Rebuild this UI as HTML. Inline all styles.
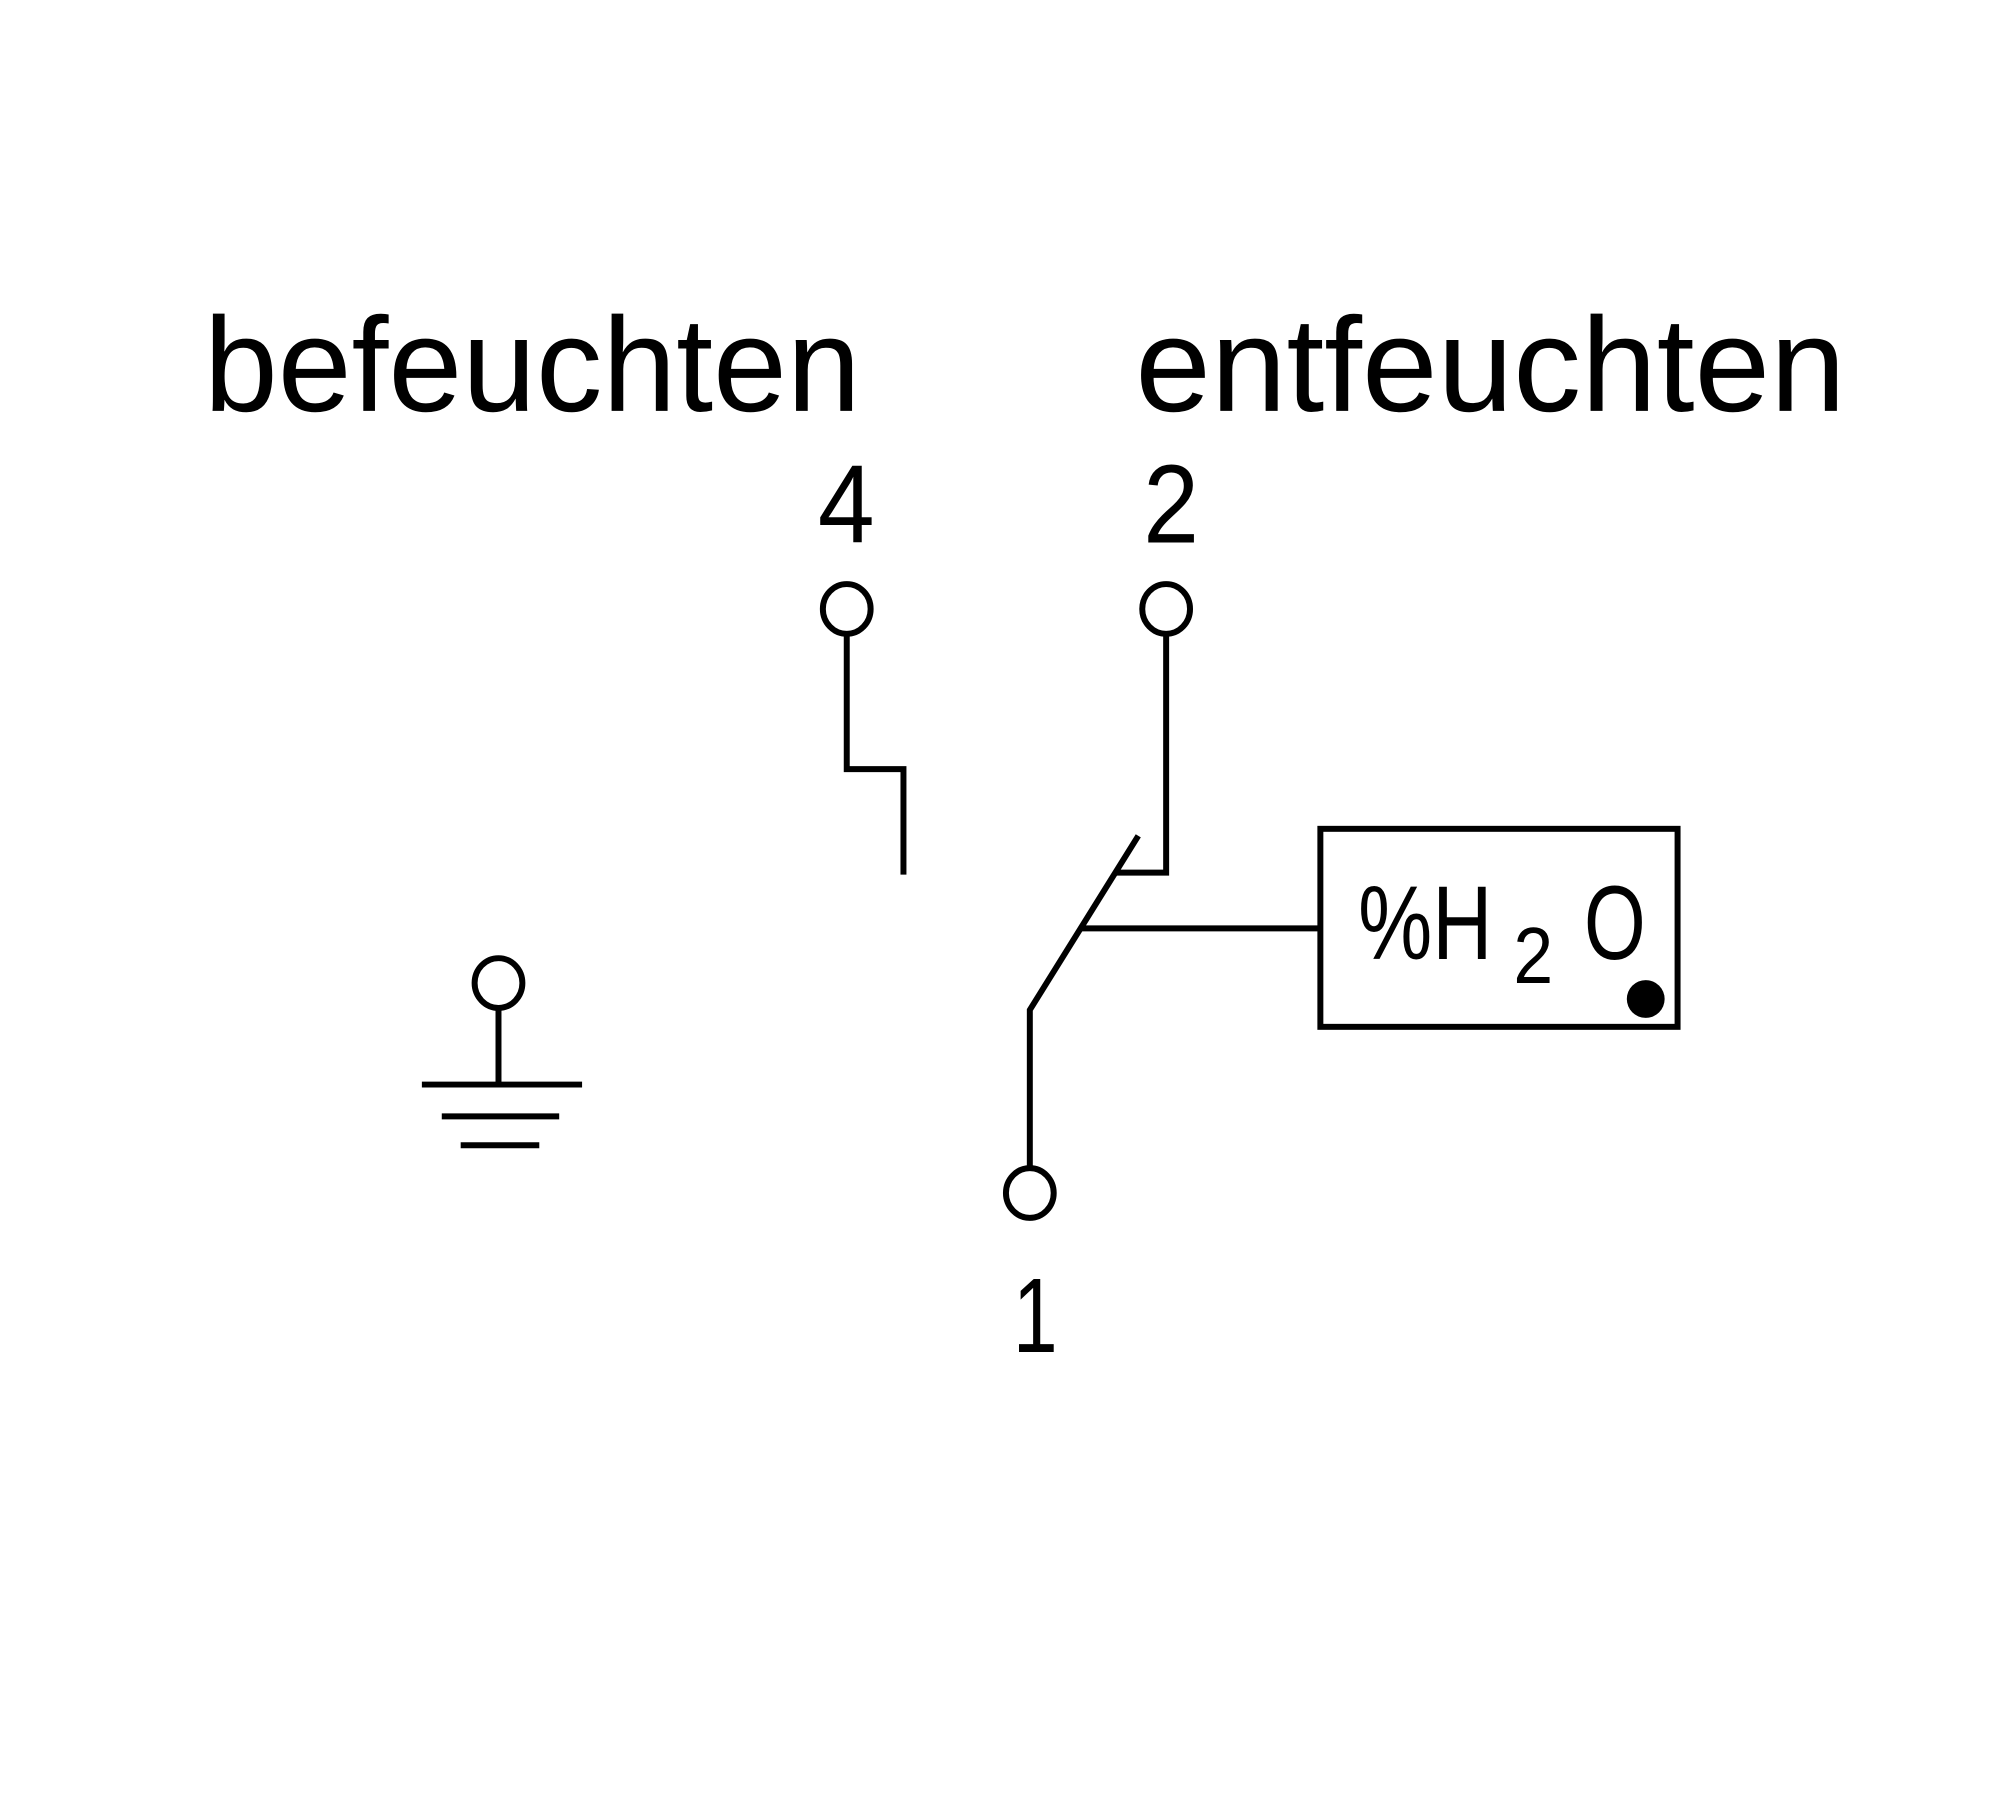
<!DOCTYPE html>
<html><head><meta charset="utf-8"><style>html,body{margin:0;padding:0;background:#fff}svg{display:block}</style></head>
<body>
<svg width="2000" height="1800" viewBox="0 0 2000 1800" xmlns="http://www.w3.org/2000/svg">
<rect width="2000" height="1800" fill="#fff"/>
<g transform="scale(0.995)">
<g font-family="Liberation Sans Narrow, Liberation Sans, sans-serif" fill="#000">
<text x="205" y="413" font-size="135" textLength="660" lengthAdjust="spacingAndGlyphs">befeuchten</text>
<text x="1141" y="413" font-size="135" textLength="714" lengthAdjust="spacingAndGlyphs">entfeuchten</text>
<text x="822" y="545" font-size="112" textLength="57" lengthAdjust="spacingAndGlyphs">4</text>
<text x="1149" y="545" font-size="112" textLength="56" lengthAdjust="spacingAndGlyphs">2</text>
<text x="1018" y="1359" font-size="106" textLength="45" lengthAdjust="spacingAndGlyphs">1</text>
<text x="1365" y="964" font-size="105" textLength="135" lengthAdjust="spacingAndGlyphs">%H</text>
<text x="1521" y="988" font-size="80" textLength="40" lengthAdjust="spacingAndGlyphs">2</text>
<text x="1592" y="964" font-size="105" textLength="62" lengthAdjust="spacingAndGlyphs">O</text>
</g>
<g fill="none" stroke="#000" stroke-width="6">
<ellipse cx="851" cy="612" rx="24" ry="25"/>
<polyline points="851,637 851,773 908,773 908,879"/>
<ellipse cx="1172" cy="612" rx="24" ry="25"/>
<polyline points="1172,637 1172,877 1122,877"/>
<polyline points="1144,840 1035,1015 1035,1174"/>
<ellipse cx="1035" cy="1199" rx="24" ry="25"/>
<line x1="1087" y1="933" x2="1327" y2="933"/>
<rect x="1327" y="833" width="359" height="199"/>
<ellipse cx="501" cy="988" rx="24" ry="25"/>
<line x1="501" y1="1013" x2="501" y2="1090"/>
<line x1="424" y1="1090" x2="585" y2="1090"/>
<line x1="444" y1="1122" x2="562" y2="1122"/>
<line x1="463" y1="1151" x2="542" y2="1151"/>
</g>
<circle cx="1654" cy="1004" r="19" fill="#000"/>
</g>
</svg>
</body></html>
